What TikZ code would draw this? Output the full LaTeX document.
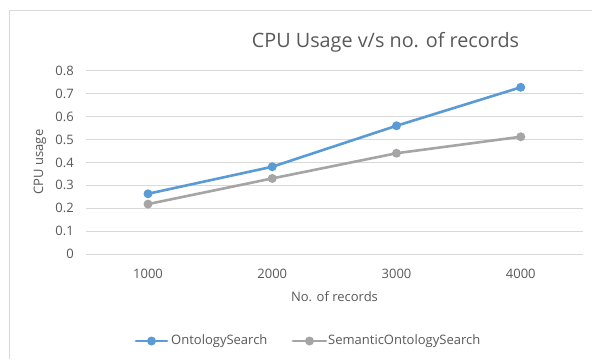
\documentclass[tikz,border=0pt]{standalone}
\usepackage{fontspec}
\setmainfont{Open Sans}
\definecolor{sblue}{HTML}{5B9BD5}
\definecolor{sgray}{HTML}{A5A5A5}
\definecolor{txt}{HTML}{595959}
\definecolor{grid}{HTML}{D9D9D9}
\tikzset{
  gridline/.style={draw=grid, line width=0.9pt},
  ticklab/.style={text=txt, font=\fontsize{13}{15}\selectfont, inner sep=0pt},
  serA/.style={draw=sblue, line width=2.6pt, line cap=round, line join=round},
  serB/.style={draw=sgray, line width=2.6pt, line cap=round, line join=round},
  markA/.style={circle, fill=sblue, inner sep=0pt, minimum size=9pt},
  markB/.style={circle, fill=sgray, inner sep=0pt, minimum size=9pt},
}
\begin{document}
\begin{tikzpicture}[x=1pt,y=-1pt]
\useasboundingbox (0,0) rectangle (592,359);
\fill[white] (0,0) rectangle (592,359);
% chart border
\draw[grid, line width=1pt] (9,359) -- (9,10) -- (592,10);
% title
\node[text=txt, font=\fontsize{19.8}{23}\selectfont, inner sep=0pt] (title) at (385.5,42) {CPU Usage v/s no. of records};
% gridlines and y labels
\foreach \v/\l [count=\i] in {0/0,0.1/0.1,0.2/0.2,0.3/0.3,0.4/0.4,0.5/0.5,0.6/0.6,0.7/0.7,0.8/0.8}{
  \draw[gridline] (86,254-\v*229) -- (583,254-\v*229);
  \node[ticklab, anchor=east] (y\i) at (74,254-\v*229) {\l};
}
% x labels
\foreach \c [count=\i] in {1000,2000,3000,4000}{
  \node[ticklab] (x\i) at (148+124.25*\i-124.25,274) {\c};
}
% axis titles
\node[ticklab] (xt) at (334.5,297) {No. of records};
\node[ticklab, rotate=90] (yt) at (40,162) {CPU usage};
% data coordinates
\coordinate (o1) at (148,{254-0.263*229});
\coordinate (o2) at (272.25,{254-0.381*229});
\coordinate (o3) at (396.5,{254-0.56*229});
\coordinate (o4) at (520.75,{254-0.728*229});
\coordinate (s1) at (148,{254-0.218*229});
\coordinate (s2) at (272.25,{254-0.33*229});
\coordinate (s3) at (396.5,{254-0.44*229});
\coordinate (s4) at (520.75,{254-0.512*229});
\draw[serB] (s1) -- (s2) -- (s3) -- (s4);
\draw[serA] (o1) -- (o2) -- (o3) -- (o4);
\foreach \p in {s1,s2,s3,s4}{ \node[markB] at (\p) {}; }
\foreach \p in {o1,o2,o3,o4}{ \node[markA] at (\p) {}; }
% legend
\coordinate (la1) at (136,341);
\coordinate (la2) at (167,341);
\draw[serA] (la1) -- (la2);
\node[markA] (lma) at (151.5,341) {};
\node[ticklab, anchor=west] (lta) at (171,341) {OntologySearch};
\coordinate (lb1) at (293,341);
\coordinate (lb2) at (326,341);
\draw[serB] (lb1) -- (lb2);
\node[markB] (lmb) at (309.5,341) {};
\node[ticklab, anchor=west] (ltb) at (328,341) {SemanticOntologySearch};
\end{tikzpicture}
\end{document}
